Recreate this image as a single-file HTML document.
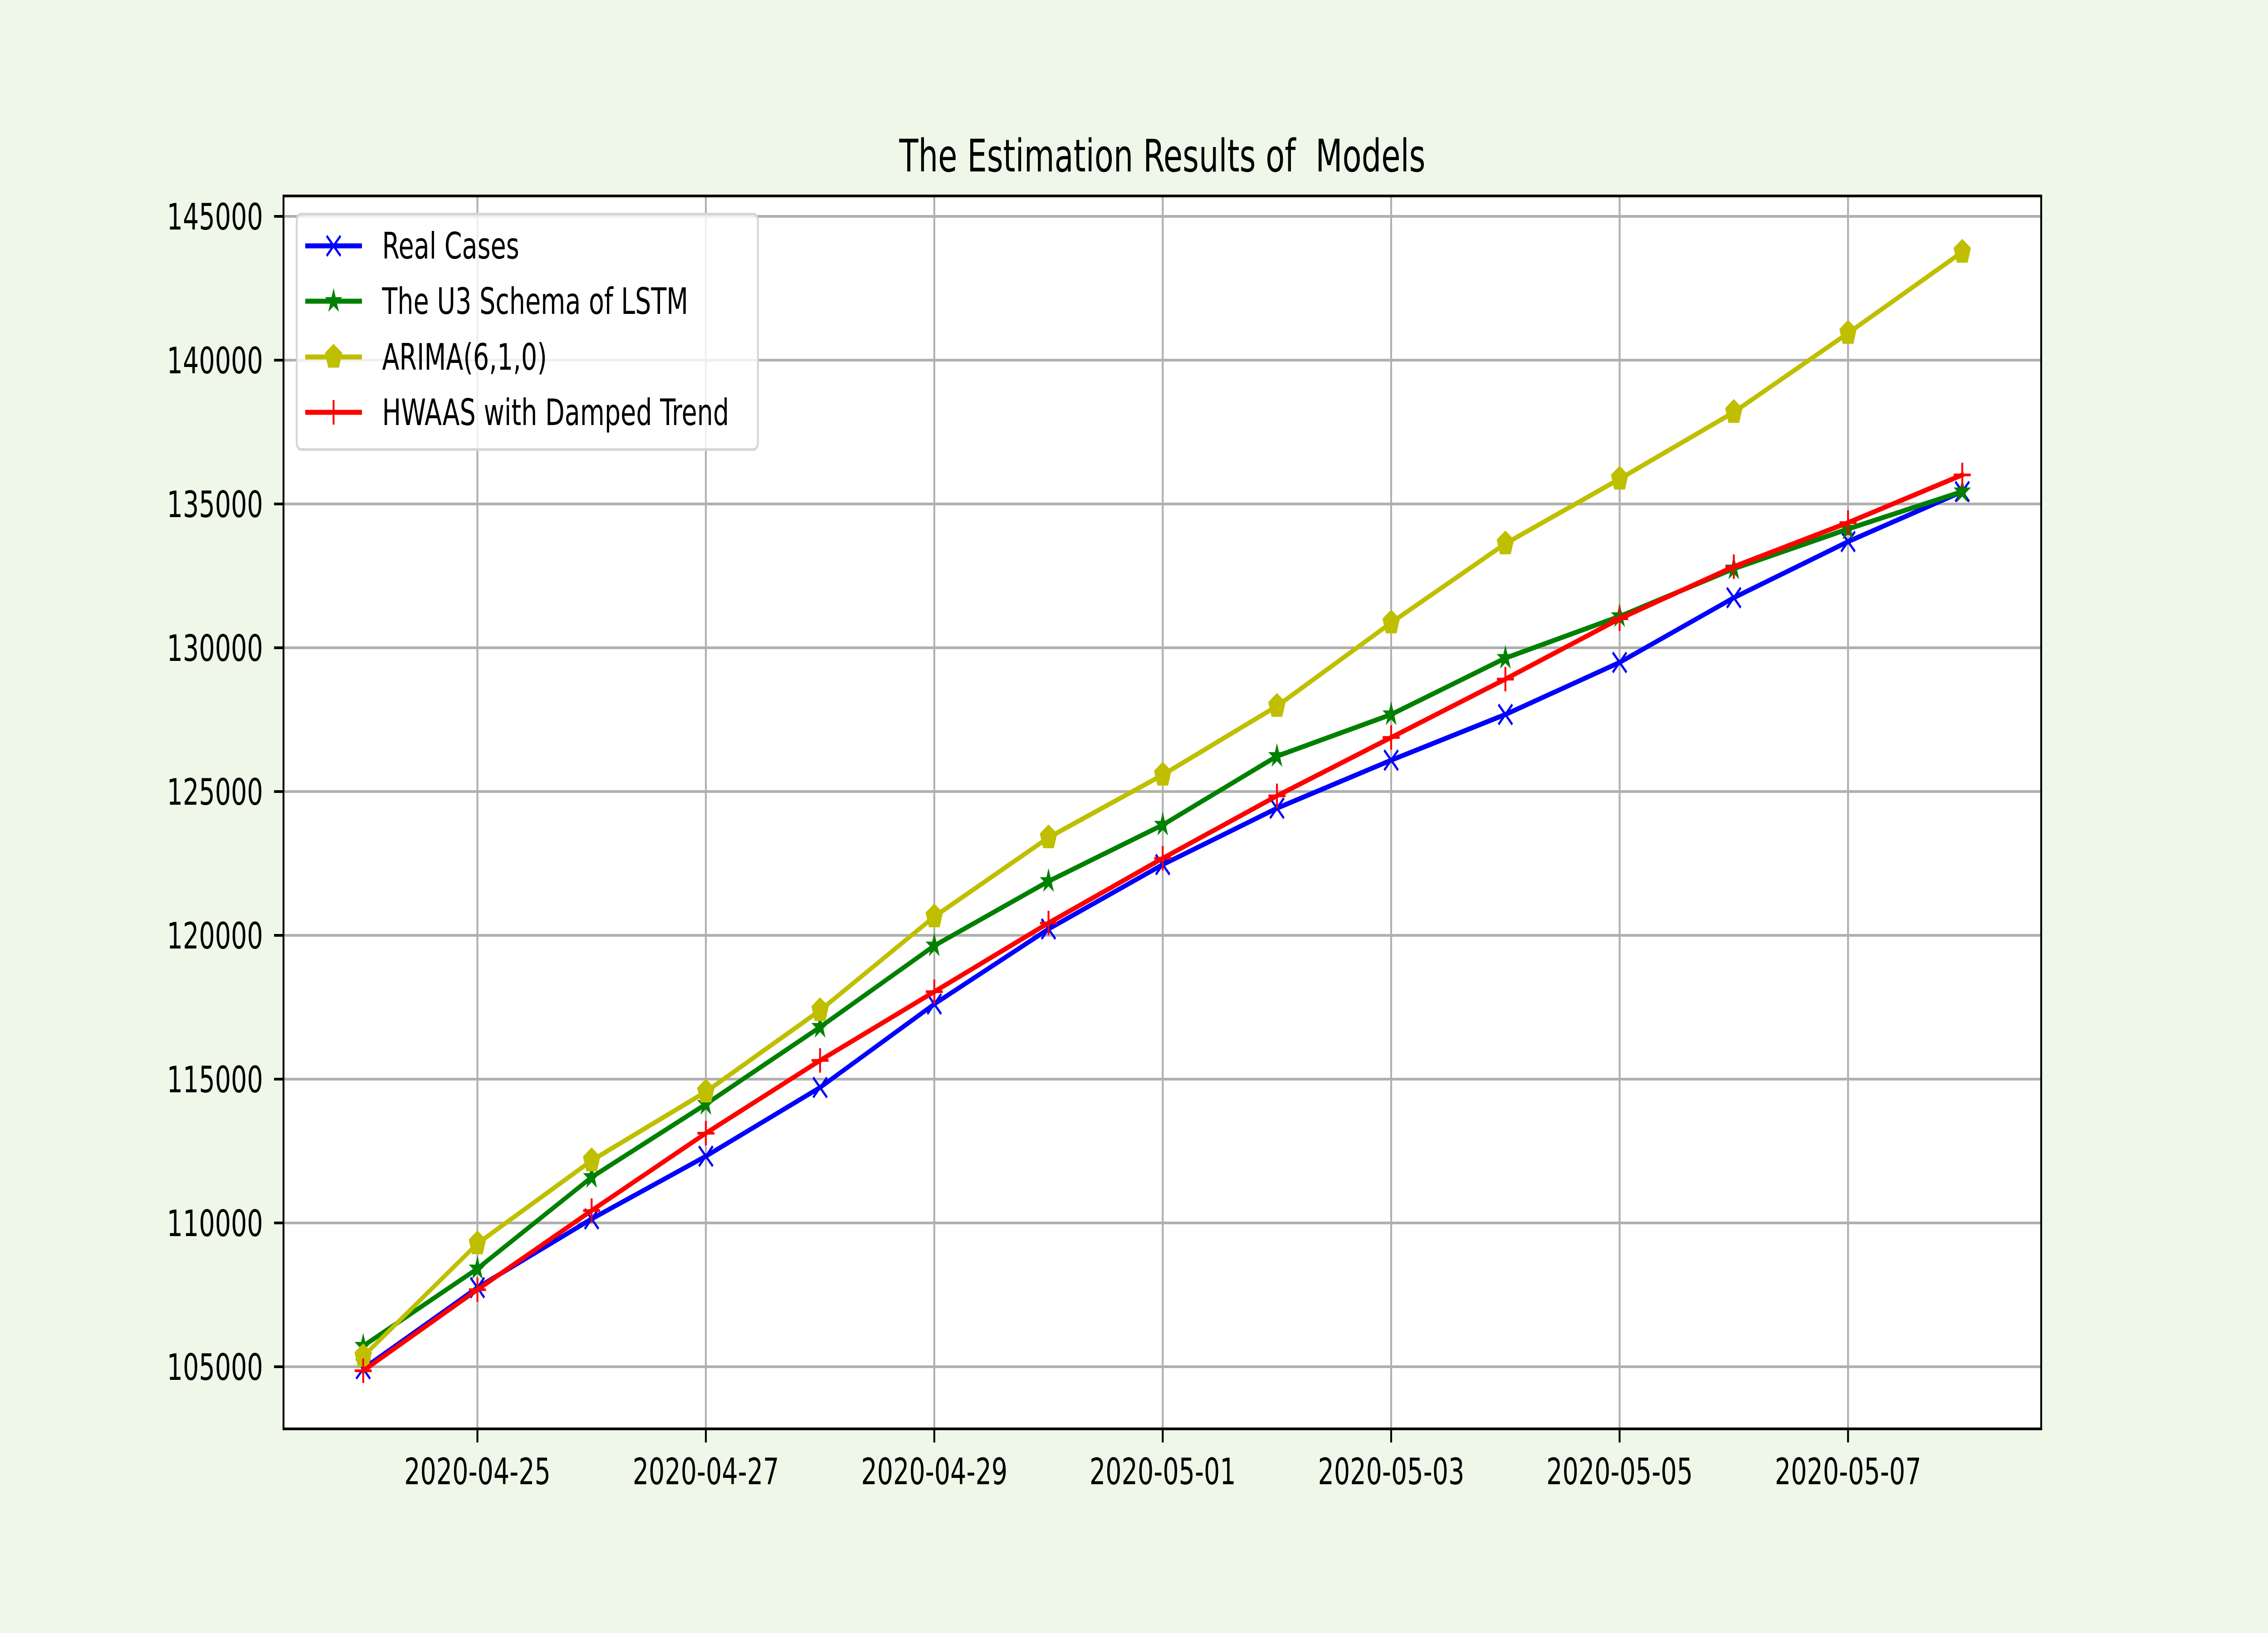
<!DOCTYPE html>
<html><head><meta charset="utf-8"><style>
html,body{margin:0;padding:0;background:#eff8e8;width:100%;height:100%;overflow:hidden;}
svg{display:block;position:absolute;left:0;top:0;width:100vw;height:100vh;font-family:"DejaVu Sans","Liberation Sans",sans-serif;}
text{white-space:pre;}
</style></head><body>
<svg id="chart" viewBox="0 0 7200 3600" preserveAspectRatio="none" xmlns="http://www.w3.org/2000/svg">
<rect x="0" y="0" width="7200" height="3600" fill="#eff8e8"/>
<rect x="900" y="432" width="5580" height="2718" fill="#ffffff"/>
<g id="grid"></g>
<g id="series"></g>
<rect x="900" y="432" width="5580" height="2718" fill="none" stroke="#000" stroke-width="6"/>
<g id="ticks"></g>
<text x="3690" y="378" font-size="99" text-anchor="middle" fill="#000" xml:space="preserve">The Estimation Results of  Models</text>
<g id="legend"></g>
</svg>
<script>
const dates = ["2020-04-24","2020-04-25","2020-04-26","2020-04-27","2020-04-28","2020-04-29","2020-04-30","2020-05-01","2020-05-02","2020-05-03","2020-05-04","2020-05-05","2020-05-06","2020-05-07","2020-05-08"];
const realCases = [104930,107750,110140,112320,114710,117610,120220,122460,124420,126090,127680,129490,131740,133690,135430];
const lstmU3 = [105720,108410,111590,114130,116810,119640,121880,123840,126230,127680,129640,131090,132750,134130,135430];
const arima = [105360,109280,112170,114560,117390,120650,123400,125580,127970,130870,133620,135870,138190,140940,143760];
const hwaas = [104860,107680,110430,113120,115650,118040,120430,122680,124850,126880,128910,131010,132820,134350,136010];
const yTicks = [105000,110000,115000,120000,125000,130000,135000,140000,145000];
const xTickIdx = [1,3,5,7,9,11,13];
const seriesNames = ["Real Cases","The U3 Schema of LSTM","ARIMA(6,1,0)","HWAAS with Damped Trend"];

const NS="http://www.w3.org/2000/svg";
const X0=900,X1=6480,Y0=432,Y1=3150;
const xStart=1153, xStep=362.6;
function xs(i){return xStart+i*xStep;}
function ys(v){return 3013-(v-105000)/5000*317;}
function mk(tag,attrs,parent){const e=document.createElementNS(NS,tag);for(const k in attrs)e.setAttribute(k,attrs[k]);parent.appendChild(e);return e;}

const grid=document.getElementById('grid'), ticks=document.getElementById('ticks');
yTicks.forEach(v=>{
  const y=ys(v);
  const gl=mk('line',{x1:X0,x2:X1,y1:y,y2:y,stroke:'#b0b0b0','stroke-width':6},grid);
  
  
  const tk=mk('line',{x1:X0-30,x2:X0,y1:y,y2:y,stroke:'#000','stroke-width':6},ticks);
  
  
  const t=mk('text',{x:835,y:y+29,'font-size':80,'text-anchor':'end',fill:'#000'},ticks);
  
  
  t.textContent=v;
});
xTickIdx.forEach(i=>{
  const x=xs(i);
  const gl=mk('line',{x1:x,x2:x,y1:Y0,y2:Y1,stroke:'#b0b0b0','stroke-width':6},grid);
  
  
  const tk=mk('line',{x1:x,x2:x,y1:Y1,y2:Y1+30,stroke:'#000','stroke-width':6},ticks);
  
  
  const t=mk('text',{x:x,y:3272,'font-size':80,'text-anchor':'middle',fill:'#000'},ticks);
  
  
  t.textContent=dates[i];
});

function marker(type,cx,cy,color,parent){
  let e;
  if(type==='x'){const s=22;e=mk('path',{d:`M${cx-s} ${cy-s}L${cx+s} ${cy+s}M${cx-s} ${cy+s}L${cx+s} ${cy-s}`,stroke:color,'stroke-width':6,fill:'none'},parent);}
  else if(type==='plus'){const s=27;e=mk('path',{d:`M${cx-s} ${cy}L${cx+s} ${cy}M${cx} ${cy-s}L${cx} ${cy+s}`,stroke:color,'stroke-width':6,fill:'none'},parent);}
  else if(type==='star'){let p=[];for(let k=0;k<10;k++){const r=k%2?11:29;const a=-Math.PI/2+k*Math.PI/5;p.push((cx+r*Math.cos(a)).toFixed(1)+','+(cy+r*Math.sin(a)).toFixed(1));}e=mk('polygon',{points:p.join(' '),fill:color},parent);}
  else {let p=[];for(let k=0;k<5;k++){const a=-Math.PI/2+k*2*Math.PI/5;p.push((cx+29*Math.cos(a)).toFixed(1)+','+(cy+29*Math.sin(a)).toFixed(1));}e=mk('polygon',{points:p.join(' '),fill:color},parent);}
  return e;
}

const seriesData=[realCases,lstmU3,arima,hwaas];
const colors=['#0000ff','#008000','#bfbf00','#ff0000'];
const mtypes=['x','star','pent','plus'];
const slugs=['real-cases','lstm-u3','arima','hwaas'];
const sg=document.getElementById('series');
seriesData.forEach((arr,si)=>{
  const g=mk('g',{},sg);
  
  
  const pl=mk('polyline',{points:arr.map((v,i)=>xs(i)+','+ys(v)).join(' '),fill:'none',stroke:colors[si],'stroke-width':11,'stroke-linejoin':'round','stroke-linecap':'square'},g);
  
  
  arr.forEach((v,i)=>{
    const m=marker(mtypes[si],xs(i),ys(v),colors[si],g);
    
    
  });
});

const lg=document.getElementById('legend');
const box=mk('rect',{x:942,y:472,width:1464,height:519,rx:14,fill:'#ffffff','fill-opacity':0.8,stroke:'#d6d6d6','stroke-width':6},lg);


const rowY=[542,664,787,909];
seriesNames.forEach((n,si)=>{
  const g=mk('g',{},lg);
  
  
  mk('line',{x1:969,x2:1149,y1:rowY[si],y2:rowY[si],stroke:colors[si],'stroke-width':11},g);
  marker(mtypes[si],1059,rowY[si],colors[si],g);
  const t=mk('text',{x:1213,y:rowY[si]+28,'font-size':80,fill:'#000'},g);
  
  
  t.textContent=n;
});
</script>
</body></html>
